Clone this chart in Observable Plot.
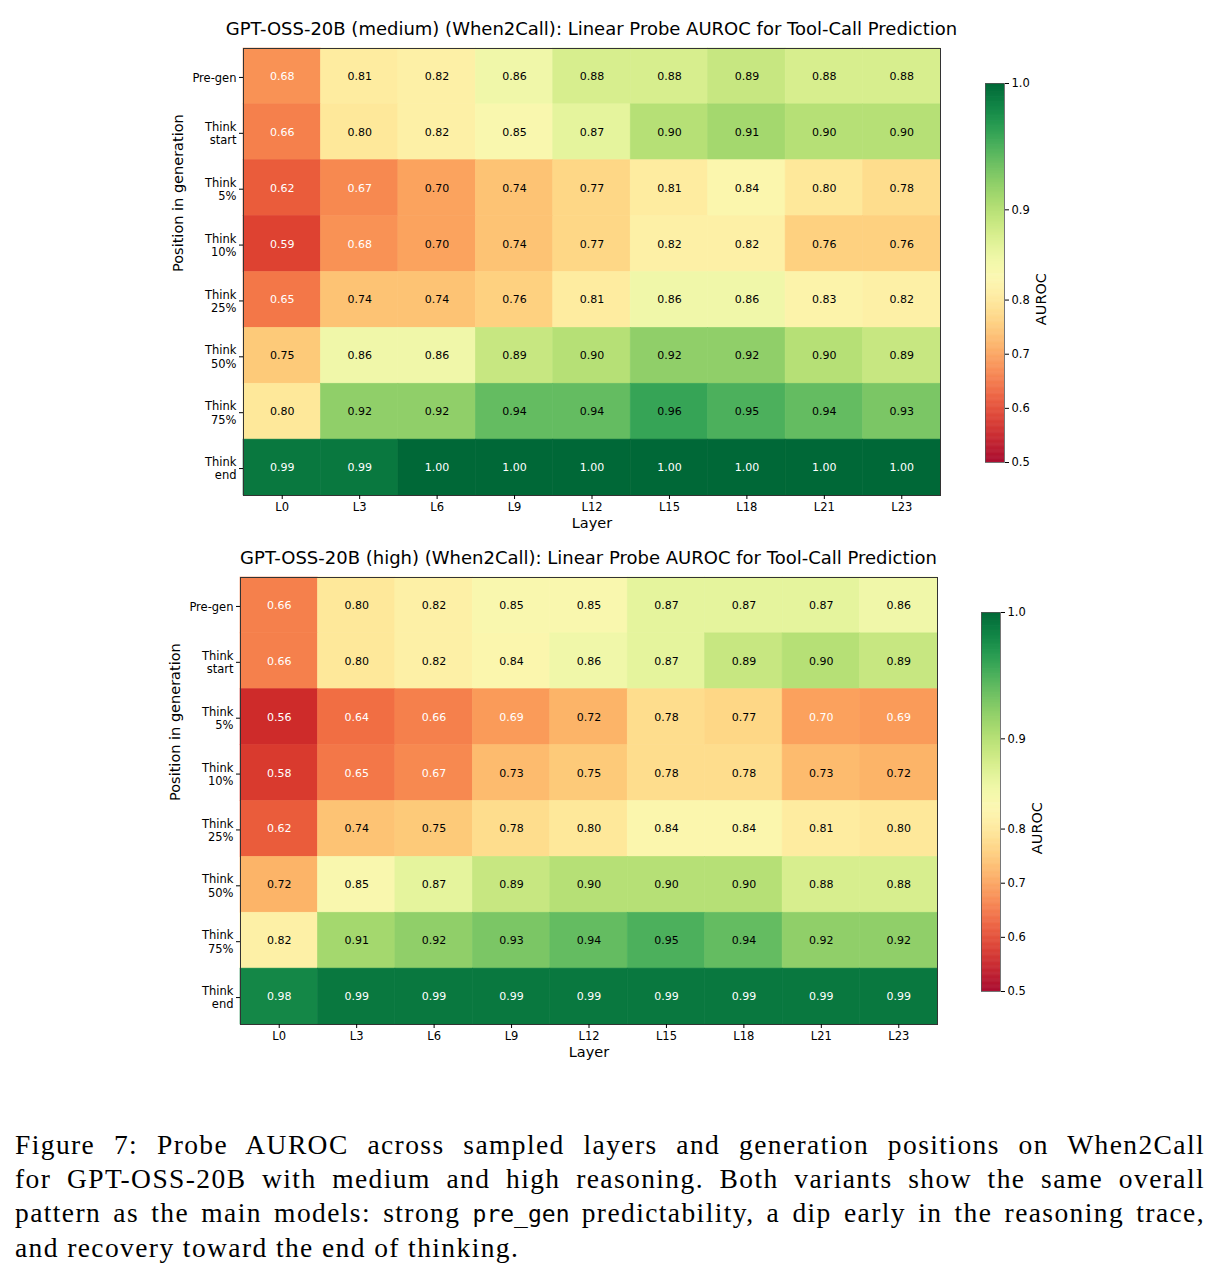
<!DOCTYPE html>
<html>
<head>
<meta charset="utf-8">
<script src="https://cdn.jsdelivr.net/npm/d3@7"></script>
<script src="https://cdn.jsdelivr.net/npm/@observablehq/plot@0.6"></script>
<style>
  html, body { margin: 0; padding: 0; background: #fff; }
  #page { position: relative; width: 1223px; height: 1278px; background: #fff; overflow: hidden; }
  .panel { position: absolute; left: 0; width: 1223px; height: 545px; }
  .panel svg { position: absolute; top: 0; }
  .title { position: absolute; top: 18px; font-family: "DejaVu Sans", sans-serif; font-size: 18px; line-height: 22px; text-align: center; color: #000; white-space: nowrap; }
  #caption { position: absolute; left: 15px; top: 1128px; width: 1190px; font-family: "Liberation Serif", "Times New Roman", serif; font-size: 27.5px; line-height: 34px; letter-spacing: 1.4px; color: #000; }
  #caption .ln { text-align: justify; text-align-last: justify; white-space: nowrap; }
  #caption .ln.last { text-align-last: left; }
  #caption code { font-family: "DejaVu Sans Mono", "Liberation Mono", monospace; font-size: 23px; letter-spacing: 0; }
</style>
</head>
<body>
<div id="page">
  <div class="panel" id="p1"></div>
  <div class="panel" id="p2"></div>
  <div id="caption">
    <div class="ln">Figure 7: Probe AUROC across sampled layers and generation positions on When2Call</div>
    <div class="ln">for GPT-OSS-20B with medium and high reasoning. Both variants show the same overall</div>
    <div class="ln">pattern as the main models: strong <code>pre_gen</code> predictability, a dip early in the reasoning trace,</div>
    <div class="ln last">and recovery toward the end of thinking.</div>
  </div>
</div>
<script>
// ---------- data ----------
const layers = ["L0", "L3", "L6", "L9", "L12", "L15", "L18", "L21", "L23"];
const positions = ["Pre-gen", "Think\nstart", "Think\n5%", "Think\n10%", "Think\n25%", "Think\n50%", "Think\n75%", "Think\nend"];

const titleMedium = "GPT-OSS-20B (medium) (When2Call): Linear Probe AUROC for Tool-Call Prediction";
const titleHigh = "GPT-OSS-20B (high) (When2Call): Linear Probe AUROC for Tool-Call Prediction";

const aurocMedium = [
  [0.68, 0.81, 0.82, 0.86, 0.88, 0.88, 0.89, 0.88, 0.88],
  [0.66, 0.80, 0.82, 0.85, 0.87, 0.90, 0.91, 0.90, 0.90],
  [0.62, 0.67, 0.70, 0.74, 0.77, 0.81, 0.84, 0.80, 0.78],
  [0.59, 0.68, 0.70, 0.74, 0.77, 0.82, 0.82, 0.76, 0.76],
  [0.65, 0.74, 0.74, 0.76, 0.81, 0.86, 0.86, 0.83, 0.82],
  [0.75, 0.86, 0.86, 0.89, 0.90, 0.92, 0.92, 0.90, 0.89],
  [0.80, 0.92, 0.92, 0.94, 0.94, 0.96, 0.95, 0.94, 0.93],
  [0.99, 0.99, 1.00, 1.00, 1.00, 1.00, 1.00, 1.00, 1.00]
];

const aurocHigh = [
  [0.66, 0.80, 0.82, 0.85, 0.85, 0.87, 0.87, 0.87, 0.86],
  [0.66, 0.80, 0.82, 0.84, 0.86, 0.87, 0.89, 0.90, 0.89],
  [0.56, 0.64, 0.66, 0.69, 0.72, 0.78, 0.77, 0.698, 0.69],
  [0.58, 0.65, 0.67, 0.73, 0.75, 0.78, 0.78, 0.73, 0.72],
  [0.62, 0.74, 0.75, 0.78, 0.80, 0.84, 0.84, 0.81, 0.80],
  [0.72, 0.85, 0.87, 0.89, 0.90, 0.90, 0.90, 0.88, 0.88],
  [0.82, 0.91, 0.92, 0.93, 0.94, 0.95, 0.94, 0.92, 0.92],
  [0.98, 0.99, 0.99, 0.99, 0.99, 0.99, 0.99, 0.99, 0.99]
];

const colorbarTicks = [0.5, 0.6, 0.7, 0.8, 0.9, 1.0];
const normMin = 0.5, normCenter = 0.85, normMax = 1.0;

// ---------- drawing ----------
const colorScale = () => ({
  type: "diverging", domain: [normMin, normMax], pivot: normCenter,
  symmetric: false, scheme: "RdYlGn"
});
const isWhite = d => d.v < 0.7 || d.v >= 0.97;

function drawPanel(el, vals, title, marginLeft, cbLeft) {
  const data = positions.flatMap((p, i) => layers.map((l, j) => ({pos: p, layer: l, v: vals[i][j]})));
  const W = 960, H = 545, frameRight = marginLeft + 697;
  const heat = Plot.plot({
    width: W, height: H,
    marginLeft, marginRight: W - frameRight, marginTop: 48, marginBottom: 50,
    style: {fontFamily: "DejaVu Sans, sans-serif", fontSize: "11.5px", color: "#000", background: "transparent"},
    x: {domain: layers, padding: 0, round: false},
    y: {domain: positions, padding: 0, round: false},
    color: colorScale(),
    marks: [
      Plot.cell(data, {x: "layer", y: "pos", fill: "v", stroke: "v", strokeWidth: 0.6}),
      Plot.text(data, {filter: d => !isWhite(d), x: "layer", y: "pos", text: d => d.v.toFixed(2), fill: "#000", fontSize: 11}),
      Plot.text(data, {filter: isWhite, x: "layer", y: "pos", text: d => d.v.toFixed(2), fill: "#fff", fontSize: 11}),
      Plot.frame({stroke: "#333", strokeWidth: 1}),
      Plot.axisX({tickSize: 4, tickPadding: 3.5, label: null, fontSize: 11.5}),
      Plot.axisY({tickSize: 4, tickPadding: 3, label: null, fontSize: 11.5, lineHeight: 1.15, dy: 1}),
      Plot.text(["Layer"], {frameAnchor: "bottom", dy: 32, fontSize: 14.5}),
      Plot.text(["Position in generation"], {frameAnchor: "left", rotate: -90, dx: -65, fontSize: 14.5})
    ]
  });
  heat.style.left = "0px";
  el.appendChild(heat);

  const t = document.createElement("div");
  t.className = "title";
  t.textContent = title;
  const center = marginLeft + 697 / 2;
  t.style.left = (center - 450) + "px";
  t.style.width = "900px";
  el.appendChild(t);

  // colorbar
  const cbW = 160, barL = 45, barR = 64;
  const step = 0.001;
  const stops = d3.range(normMin, normMax, step);
  const top = 83, bottom = 462;
  const cb = Plot.plot({
    width: cbW, height: H,
    marginLeft: barL, marginRight: cbW - barR, marginTop: top, marginBottom: H - bottom,
    style: {fontFamily: "DejaVu Sans, sans-serif", fontSize: "11.5px", color: "#000", background: "transparent"},
    x: {type: "linear", domain: [0, 1], axis: null},
    y: {type: "linear", domain: [normMin, normCenter, normMax], range: [bottom, (top + bottom) / 2, top], axis: null},
    color: colorScale(),
    marks: [
      Plot.rect(stops, {x1: 0, x2: 1, y1: d => d, y2: d => Math.min(normMax, d + step * 1.6), fill: d => d + step / 2}),
      Plot.frame({stroke: "#555", strokeWidth: 0.8}),
      Plot.axisY({anchor: "right", ticks: colorbarTicks, tickFormat: d3.format(".1f"), tickSize: 4, tickPadding: 3, label: null, fontSize: 11.5}),
      Plot.text(["AUROC"], {frameAnchor: "right", rotate: -90, dx: 37, fontSize: 14.5})
    ]
  });
  cb.style.left = cbLeft + "px";
  el.appendChild(cb);
}

const p1 = document.getElementById("p1");
const p2 = document.getElementById("p2");
p1.style.top = "0px";
p2.style.top = "529px";
drawPanel(p1, aurocMedium, titleMedium, 243, 940);
drawPanel(p2, aurocHigh, titleHigh, 240, 936);
</script>
</body>
</html>
